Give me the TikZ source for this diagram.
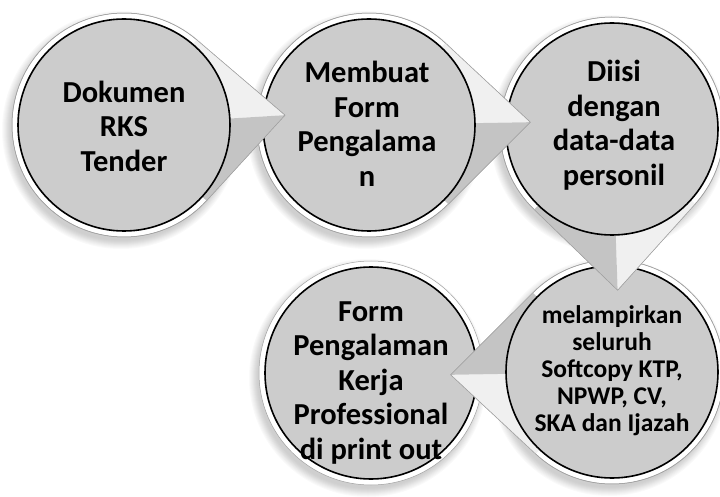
\documentclass[tikz,border=0pt]{standalone}
\usepackage{fontspec}
\setmainfont{Carlito}
\definecolor{discgray}{RGB}{204,204,204}
\definecolor{facelt}{RGB}{240,240,240}
\definecolor{facedk}{RGB}{196,196,196}
\definecolor{ringgray}{RGB}{160,160,160}
\tikzset{
  tear/.style 2 args={insert path={({#1+46}:#2) arc[start angle={#1+46}, end angle={#1+314}, radius=#2] -- ({#1}:{#2*1.44}) -- cycle}},
  ringfill/.style={fill=white},
  ringline/.style={draw=ringgray, line width=0.5pt},
  facelight/.style={fill=facelt},
  facedark/.style={fill=facedk},
  innerdisc/.style={fill=discgray, draw=black, line width=1.6pt},
  lbl/.style={align=center, text=black, inner sep=0pt, font=\bfseries\fontsize{30.5}{34.5}\selectfont},
  lblsmall/.style={align=center, text=black, inner sep=0pt, font=\bfseries\fontsize{25.5}{27}\selectfont}
}
\newcommand\ShadowAt[2]{%
  \foreach \rr/\cc in {119/4,118/8,117/12,116/16,115/20,114/25,113/29,112/33,111/36,110/38}{%
    \fill[gray!\cc] ({#1-3},{#2-5}) circle[radius=\rr];}}
% #1 cx, #2 cy, #3 tip angle
\newcommand\TearShape[3]{%
  \begin{scope}[shift={(#1,#2)}]
    \filldraw[ringfill, ringline, tear={#3}{112}];
    \fill[facelight] (0,0) -- ({#3+46}:112) -- ({#3}:161) -- cycle;
    \fill[facedark] (0,0) -- ({#3-46}:112) -- ({#3}:161) -- cycle;
    \draw[ringline, tear={#3}{112}];
    \filldraw[innerdisc] (0,0) circle[radius=106];
  \end{scope}}
\newcommand\RoundShape[2]{%
  \begin{scope}[shift={(#1,#2)}]
    \filldraw[ringfill, ringline] (0,0) circle[radius=112];
    \filldraw[innerdisc] (0,0) circle[radius=106];
  \end{scope}}
\begin{document}
\begin{tikzpicture}[x=1pt, y=1pt]
  \useasboundingbox (0,0) rectangle (720,496);
  % shadows
  \ShadowAt{371}{123}
  \ShadowAt{612}{124}
  \ShadowAt{612}{367}
  \ShadowAt{369}{371}
  \ShadowAt{124}{371}
  % fifth
  \RoundShape{371}{123}
  \node[lbl] (n5) at (371,113) {Form\\Pengalaman\\Kerja\\Professional\\di print out};
  % fourth
  \TearShape{612}{124}{181}
  \node[lblsmall] (n4) at (612,125) {melampirkan\\seluruh\\Softcopy KTP,\\NPWP, CV,\\SKA dan Ijazah};
  % third
  \TearShape{612}{367}{-88}
  \node[lbl] (n3) at (614,371) {Diisi\\dengan\\data-data\\personil};
  % second
  \TearShape{369}{371}{1}
  \node[lbl] (n2) at (367,372) {Membuat\\Form\\Pengalama\\n};
  % first
  \TearShape{124}{371}{3.5}
  \node[lbl] (n1) at (124,370) {Dokumen\\RKS\\Tender};
\end{tikzpicture}
\end{document}
